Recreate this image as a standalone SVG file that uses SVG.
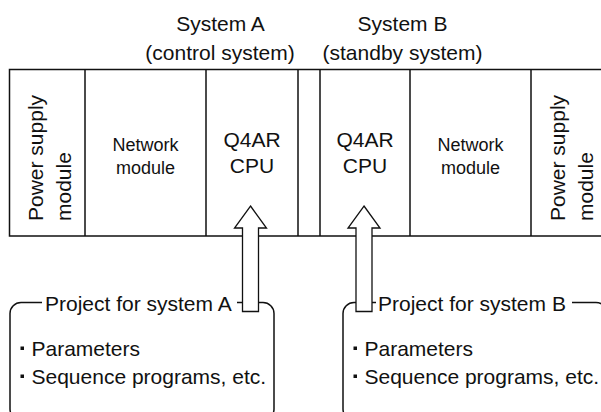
<svg xmlns="http://www.w3.org/2000/svg" width="601" height="412" viewBox="0 0 601 412">
<style>
text{font-family:"Liberation Sans",Arial,sans-serif;fill:#111;}
.t21{font-size:21px;}
.t18{font-size:18px;}
.mid{text-anchor:middle;}
.ln{fill:none;stroke:#111;stroke-width:1.5;}
.arrow{fill:#fff;stroke:#111;stroke-width:1.3;stroke-linejoin:miter;}
.bul{fill:#111;}
</style>
<rect width="601" height="412" fill="#fff"/>
<g id="headers">
<text class="t21 mid" x="220.5" y="31">System A</text>
<text class="t21 mid" x="220" y="59.5">(control system)</text>
<text class="t21 mid" x="402.5" y="31">System B</text>
<text class="t21 mid" x="402.5" y="59.5">(standby system)</text>
</g>
<g id="rack">
<path class="ln" d="M601 69.5 H9.5 V236 H601"/>
<path class="ln" d="M85 69.5 V236 M206 69.5 V236 M298 69.5 V236 M320 69.5 V236 M410 69.5 V236 M531 69.5 V236"/>
</g>
<g id="powerA">
<text class="t21" transform="translate(43,221) rotate(-90)">Power supply</text>
<text class="t21" transform="translate(71,221) rotate(-90)">module</text>
</g>
<g id="networkA">
<text class="t18 mid" x="145.5" y="151">Network</text>
<text class="t18 mid" x="145.5" y="174">module</text>
</g>
<g id="cpuA">
<text class="t21 mid" x="252" y="147">Q4AR</text>
<text class="t21 mid" x="252" y="173">CPU</text>
</g>
<g id="cpuB">
<text class="t21 mid" x="365" y="147">Q4AR</text>
<text class="t21 mid" x="365" y="173">CPU</text>
</g>
<g id="networkB">
<text class="t18 mid" x="470.5" y="151">Network</text>
<text class="t18 mid" x="470.5" y="174">module</text>
</g>
<g id="powerB">
<text class="t21" transform="translate(565,221) rotate(-90)">Power supply</text>
<text class="t21" transform="translate(593,221) rotate(-90)">module</text>
</g>
<g id="projectA">
<path class="ln" d="M42 302.5 H21 A11 11 0 0 0 10 313.5 V409 A11 11 0 0 0 21 420"/>
<path class="ln" d="M237 302.5 H263 A11 11 0 0 1 274 313.5 V409 A11 11 0 0 1 263 420"/>
<text class="t21" x="45" y="310.5">Project for system A</text>
<rect class="bul" x="20.5" y="346.5" width="3.5" height="3.5"/>
<text class="t21" x="31.5" y="356">Parameters</text>
<rect class="bul" x="20.5" y="374.5" width="3.5" height="3.5"/>
<text class="t21" x="31.5" y="384">Sequence programs, etc.</text>
</g>
<g id="projectB">
<path class="ln" d="M376 302.5 H354 A11 11 0 0 0 343 313.5 V409 A11 11 0 0 0 354 420"/>
<path class="ln" d="M572 302.5 H596 A11 11 0 0 1 607 313.5 V420"/>
<text class="t21" x="378" y="310.5">Project for system B</text>
<rect class="bul" x="353.5" y="346.5" width="3.5" height="3.5"/>
<text class="t21" x="364.5" y="356">Parameters</text>
<rect class="bul" x="353.5" y="374.5" width="3.5" height="3.5"/>
<text class="t21" x="364.5" y="384">Sequence programs, etc.</text>
</g>
<g id="connectors">
<path class="arrow" d="M250.5 206 L266.5 228 H258.5 V311.5 H242.5 V228 H234.5 Z"/>
<path class="arrow" d="M364 206 L380 228 H372 V311.5 H356 V228 H348 Z"/>
</g>
</svg>
